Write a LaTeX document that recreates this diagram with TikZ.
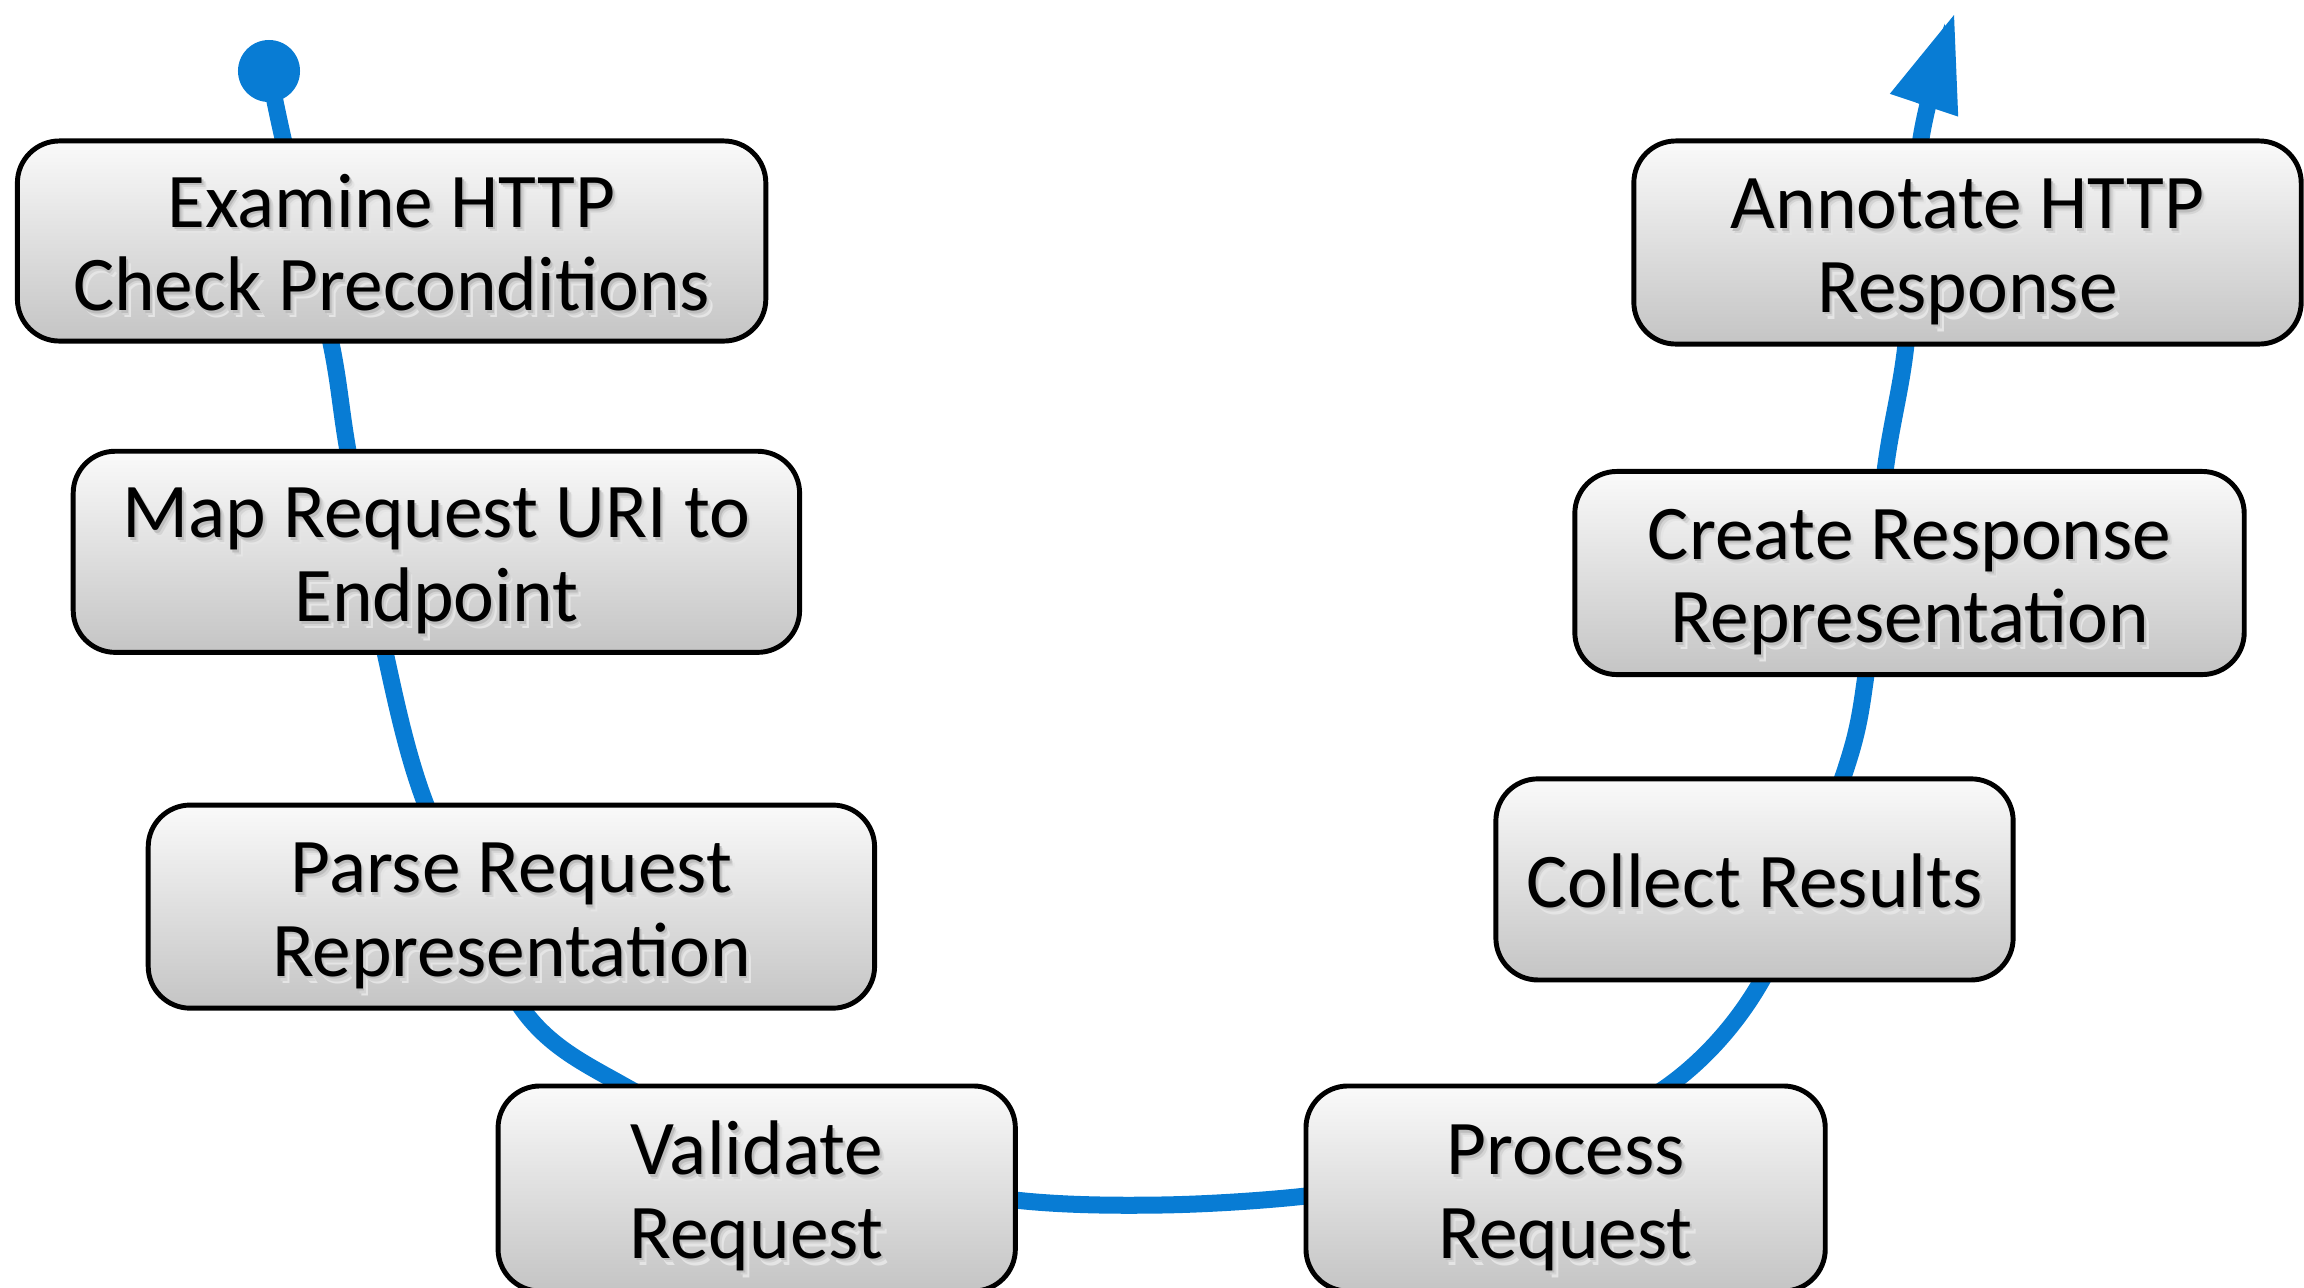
\documentclass[tikz,border=0pt]{standalone}
\usepackage{fontspec}
\setmainfont{Carlito}
\usetikzlibrary{arrows.meta}

\definecolor{flowblue}{RGB}{8,124,212}

% label text with a soft drop shadow, set a little below the box centre
\newbox\stagetextbox
\newdimen\stageht
\newdimen\stagedp
\newcommand\shadowed[1]{%
  \setbox\stagetextbox\hbox{\begin{tabular}{@{}c@{}}#1\end{tabular}}%
  \stageht=\ht\stagetextbox \stagedp=\dp\stagetextbox
  \raisebox{-3.2pt}[\stageht][\stagedp]{%
  \rlap{\kern1.5pt\raisebox{-1.9pt}{\color{black!10}\copy\stagetextbox}}%
  \rlap{\kern1.0pt\raisebox{-1.3pt}{\color{black!17}\copy\stagetextbox}}%
  \rlap{\kern0.5pt\raisebox{-0.7pt}{\color{black!26}\copy\stagetextbox}}%
  {\color{black}\box\stagetextbox}}}
\newcommand\stagefont{\fontsize{22}{23.8}\selectfont}

\tikzset{
  stage/.style={draw=black, line width=1.4pt, rounded corners=0.42cm,
    top color=black!2, bottom color=black!23, inner sep=0pt,
    font=\stagefont},
  flow/.style={draw=flowblue, line width=0.17cm,
    -{Triangle[length=0.95cm,width=0.72cm,line width=0pt]}},
}

\begin{document}
\begin{tikzpicture}[x=0.01cm, y=-0.01cm]
\useasboundingbox (0,0) rectangle (2304,1287);

% start dot and end of the path
\node[circle, fill=flowblue, minimum size=0.62cm, inner sep=0pt] (start) at (269,71) {};
\coordinate (tip) at (1954,15);

% the request/response path, drawn behind the stages
\draw[flow] plot[smooth] coordinates {
  (start) (283.6,141) (330.6,341) (348,451) (385,652) (426,805)
  (521.6,1008) (624.5,1086) (800,1165) (1015,1200) (1160,1205)
  (1306,1196) (1500,1168) (1668,1086) (1762,980) (1843,777)
  (1866,674.5) (1885,471.7) (1906,344) (1920.6,141) (tip)};

% stages
\node[stage, minimum width=7.48cm, minimum height=2.00cm] (examine) at (391.6,241)
  {\shadowed{Examine HTTP\\Check Preconditions}};
\node[stage, minimum width=7.26cm, minimum height=2.01cm] (map) at (436.4,551.8)
  {\shadowed{Map Request URI to\\Endpoint}};
\node[stage, minimum width=7.26cm, minimum height=2.03cm] (parse) at (511.4,906.6)
  {\shadowed{Parse Request\\Representation}};
\node[stage, minimum width=5.17cm, minimum height=2.05cm] (validate) at (756.7,1188.5)
  {\shadowed{Validate\\Request}};
\node[stage, minimum width=5.19cm, minimum height=2.05cm] (process) at (1565.6,1188.5)
  {\shadowed{Process\\Request}};
\node[stage, minimum width=5.17cm, minimum height=2.01cm] (collect) at (1754.5,879.4)
  {\shadowed{Collect Results}};
\node[stage, minimum width=6.69cm, minimum height=2.03cm] (create) at (1909.5,573)
  {\shadowed{Create Response\\Representation}};
\node[stage, minimum width=6.67cm, minimum height=2.03cm] (annotate) at (1967.5,242.5)
  {\shadowed{Annotate HTTP\\Response}};
\end{tikzpicture}
\end{document}
